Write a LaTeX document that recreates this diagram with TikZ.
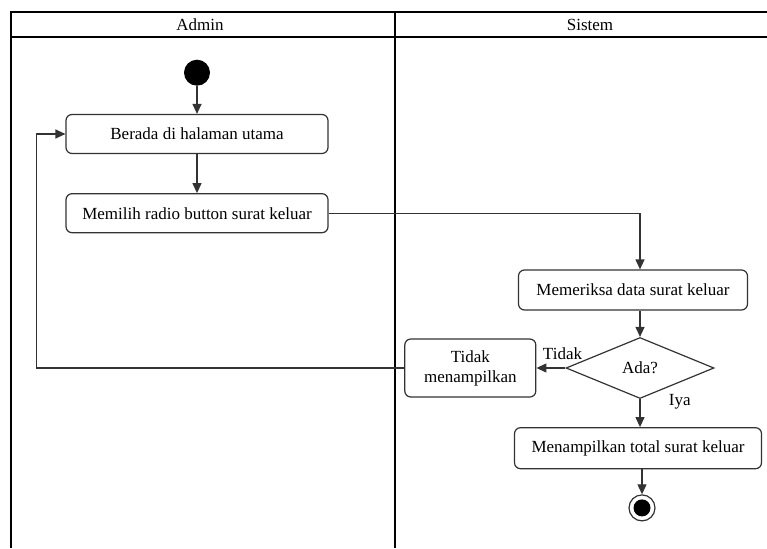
\documentclass[tikz,border=0pt]{standalone}
\usepackage{fontspec}
\setmainfont{Liberation Serif}
\usetikzlibrary{arrows.meta,shapes.geometric,positioning}

\begin{document}
\begin{tikzpicture}[x=1pt,y=-1pt,
  action/.style={rectangle,rounded corners=6pt,draw=black!80,line width=1.2pt,minimum height=39pt,inner sep=2pt},
  decision/.style={diamond,aspect=2.4,draw=black!80,line width=1.2pt,minimum width=148pt,minimum height=61pt,inner sep=0pt},
  startpoint/.style={circle,fill=black,minimum size=26pt,inner sep=0pt},
  endpoint/.style={circle,draw=black!80,line width=1.2pt,minimum size=26pt,inner sep=0pt,
    path picture={\fill[black] (path picture bounding box.center) circle (8.5pt);}},
  flow/.style={-{Triangle[length=10pt,width=9pt]},draw=black!80,line width=1.2pt},
  lane/.style={draw=black,line width=1.2pt},
  font=\fontsize{17}{20}\selectfont,
  align=center]

  \useasboundingbox (0,0) rectangle (767,548);

  % swimlanes
  \draw[lane] (767,12) -- (11,12) -- (11,548);
  \draw[lane] (11,37) -- (767,37);
  \draw[lane] (395,12) -- (395,548);
  \node (admin) at (200,25) {Admin};
  \node (sistem) at (590,25) {Sistem};

  \node[action, minimum width=262pt] (berada) at (197,134) {Berada di halaman utama};
  \node[startpoint] (start) [above=28pt of berada] {};
  \node[action, minimum width=262pt] (memilih) [below=39pt of berada] {Memilih radio button surat keluar};

  \node[action, minimum width=229pt, minimum height=40pt] (memeriksa) at (633,290) {Memeriksa data surat keluar};
  \node[decision] (ada) at (640,368) {Ada?};
  \node[action, minimum width=131pt, minimum height=58pt] (tidak) [left=29pt of ada] {Tidak\\menampilkan};
  \node[action, minimum width=247pt, minimum height=41pt] (menampilkan) [below=28pt of ada, xshift=-2pt] {Menampilkan total surat keluar};
  \node[endpoint] (end) [below=25pt of menampilkan, xshift=4pt] {};

  \draw[flow] (start) -- (berada);
  \draw[flow] (berada) -- (memilih);
  \draw[flow] (memilih.east) -| (ada |- memeriksa.north);
  \draw[flow] (ada |- memeriksa.south) -- (ada.north);
  \draw[flow] (ada.west) -- node[above, pos=0.1, yshift=4pt] {Tidak} (tidak.east);
  \draw[flow] (tidak.west) -| ([xshift=-29pt]berada.west) -- (berada.west);
  \draw[flow] (ada.south) -- node[right, pos=0.0, xshift=25pt, yshift=-3pt] {Iya} (ada |- menampilkan.north);
  \draw[flow] (end |- menampilkan.south) -- (end);
\end{tikzpicture}
\end{document}
